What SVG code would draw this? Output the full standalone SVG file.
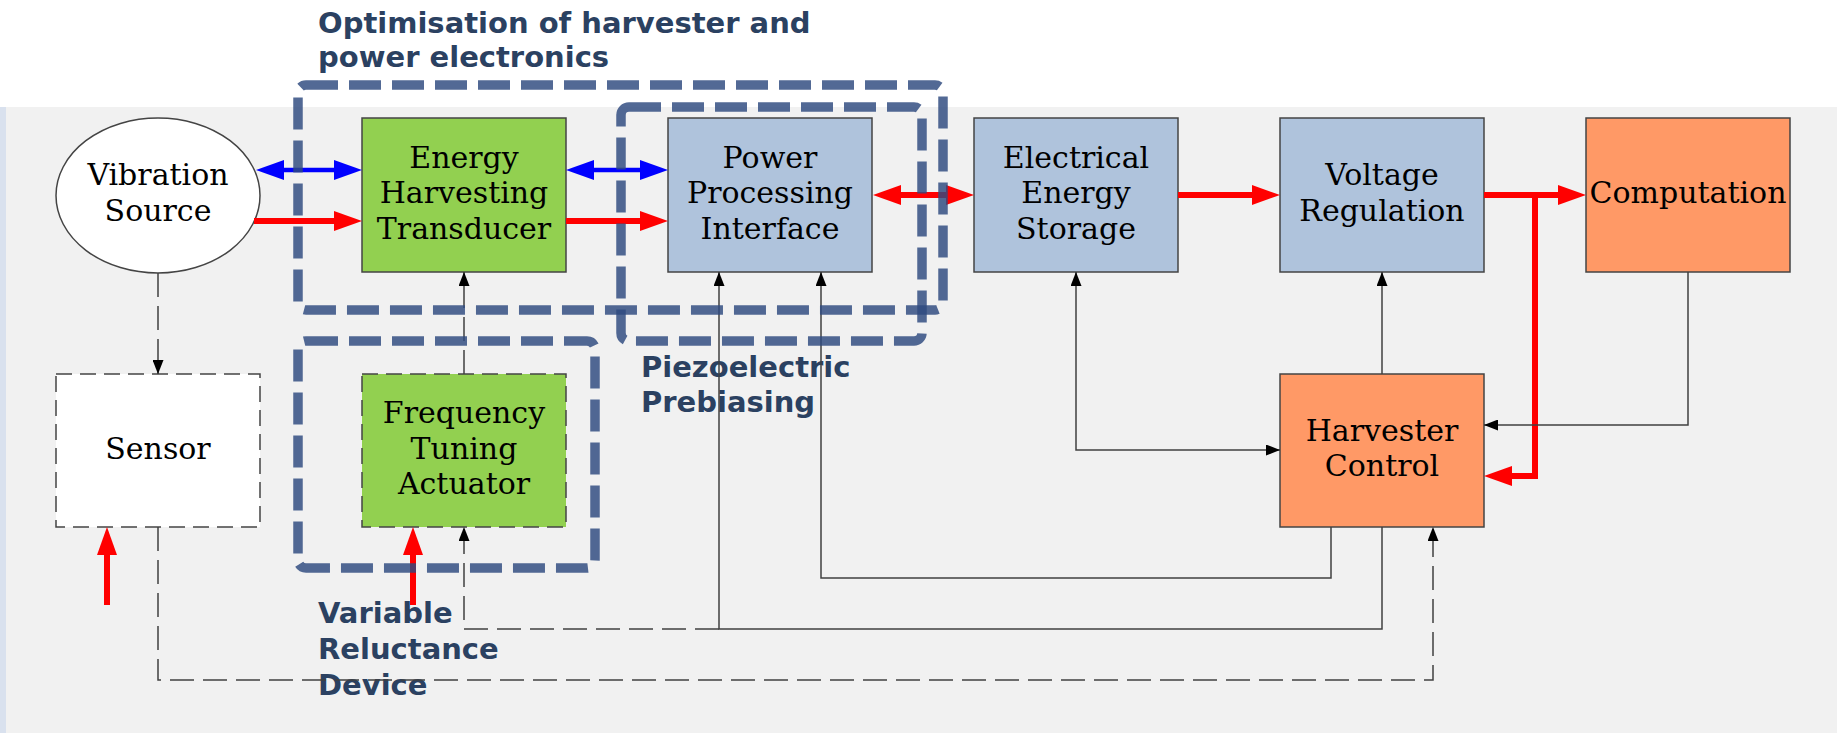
<svg xmlns="http://www.w3.org/2000/svg" width="1837" height="733" viewBox="0 0 1837 733">
<style>
.box{stroke:#444;stroke-width:1.5}
.dbox{stroke:#444;stroke-width:1.5;stroke-dasharray:16 8}
.t{font-family:"DejaVu Serif","Liberation Serif",serif;font-size:30px;fill:#000;text-anchor:middle}
.lbl{font-family:"DejaVu Sans","Liberation Sans",sans-serif;font-size:29px;font-weight:bold;fill:#2b4161}
.thin{fill:none;stroke:#404040;stroke-width:1.5}
.dash{fill:none;stroke:#404040;stroke-width:1.5;stroke-dasharray:24 9}
.red{fill:none;stroke:#ff0000;stroke-width:6}
.blue{fill:none;stroke:#0000ff;stroke-width:4.5}
.grp{fill:none;stroke:#2f4a80;stroke-opacity:0.83;stroke-width:9.5;stroke-dasharray:32 11}
</style>
<defs>
<marker id="aRed" viewBox="0 0 28 20" refX="18" refY="10" markerWidth="28" markerHeight="20" markerUnits="userSpaceOnUse" orient="auto-start-reverse"><path d="M0,0 L28,10 L0,20 z" fill="#ff0000" stroke="none"/></marker>
<marker id="aBlue" viewBox="0 0 28 20" refX="18" refY="10" markerWidth="28" markerHeight="20" markerUnits="userSpaceOnUse" orient="auto-start-reverse"><path d="M0,0 L28,10 L0,20 z" fill="#0000ff" stroke="none"/></marker>
<marker id="aBlk" viewBox="0 0 14 11" refX="14" refY="5.5" markerWidth="14" markerHeight="11" markerUnits="userSpaceOnUse" orient="auto-start-reverse"><path d="M0,0 L14,5.5 L0,11 z" fill="#000" stroke="none"/></marker>
</defs>
<rect x="0" y="0" width="1837" height="733" fill="#ffffff"/>
<rect x="6" y="107" width="1831" height="626" fill="#f1f1f1"/>
<rect x="0" y="107" width="6" height="626" fill="#d9e1ee"/>

<g id="labels">
<text class="lbl" x="318" y="33">Optimisation of harvester and</text>
<text class="lbl" x="318" y="67">power electronics</text>
<text class="lbl" x="641" y="377">Piezoelectric</text>
<text class="lbl" x="641" y="412">Prebiasing</text>
<text class="lbl" x="318" y="623">Variable</text>
<text class="lbl" x="318" y="659">Reluctance</text>
<text class="lbl" x="318" y="695">Device</text>
</g>

<g id="vibration-source">
<ellipse cx="158" cy="195.5" rx="102" ry="77.5" fill="#ffffff" class="box"/>
<text class="t" x="158" y="185">Vibration</text>
<text class="t" x="158" y="221">Source</text>
</g>
<g id="energy-harvesting-transducer">
<rect x="362" y="118" width="204" height="154" fill="#92d050" class="box"/>
<text class="t" x="464" y="167.5">Energy</text>
<text class="t" x="464" y="203">Harvesting</text>
<text class="t" x="464" y="238.5">Transducer</text>
</g>
<g id="power-processing-interface">
<rect x="668" y="118" width="204" height="154" fill="#afc3dc" class="box"/>
<text class="t" x="770" y="167.5">Power</text>
<text class="t" x="770" y="203">Processing</text>
<text class="t" x="770" y="238.5">Interface</text>
</g>
<g id="electrical-energy-storage">
<rect x="974" y="118" width="204" height="154" fill="#afc3dc" class="box"/>
<text class="t" x="1076" y="167.5">Electrical</text>
<text class="t" x="1076" y="203">Energy</text>
<text class="t" x="1076" y="238.5">Storage</text>
</g>
<g id="voltage-regulation">
<rect x="1280" y="118" width="204" height="154" fill="#afc3dc" class="box"/>
<text class="t" x="1382" y="185">Voltage</text>
<text class="t" x="1382" y="221">Regulation</text>
</g>
<g id="computation">
<rect x="1586" y="118" width="204" height="154" fill="#ff9966" class="box"/>
<text class="t" x="1688" y="203">Computation</text>
</g>
<g id="sensor">
<rect x="56" y="374" width="204" height="153" fill="#ffffff" class="dbox"/>
<text class="t" x="158" y="458.5">Sensor</text>
</g>
<g id="frequency-tuning-actuator">
<rect x="362" y="374" width="204" height="153" fill="#92d050" class="dbox"/>
<text class="t" x="464" y="423">Frequency</text>
<text class="t" x="464" y="458.5">Tuning</text>
<text class="t" x="464" y="494">Actuator</text>
</g>
<g id="harvester-control">
<rect x="1280" y="374" width="204" height="153" fill="#ff9966" class="box"/>
<text class="t" x="1382" y="441">Harvester</text>
<text class="t" x="1382" y="476">Control</text>
</g>

<g id="connectors">
<line class="blue" x1="266" y1="170" x2="352" y2="170" marker-start="url(#aBlue)" marker-end="url(#aBlue)"/>
<line class="blue" x1="576" y1="170" x2="658" y2="170" marker-start="url(#aBlue)" marker-end="url(#aBlue)"/>
<line class="red" x1="254" y1="221" x2="352" y2="221" marker-end="url(#aRed)"/>
<line class="red" x1="566" y1="221" x2="658" y2="221" marker-end="url(#aRed)"/>
<line class="red" x1="883" y1="195" x2="964" y2="195" marker-start="url(#aRed)" marker-end="url(#aRed)"/>
<line class="red" x1="1178" y1="195" x2="1270" y2="195" marker-end="url(#aRed)"/>
<line class="red" x1="1484" y1="195" x2="1576" y2="195" marker-end="url(#aRed)"/>
<path class="red" d="M1535,195 V476 H1494" marker-end="url(#aRed)"/>
<path class="red" d="M107,605 V537" marker-end="url(#aRed)"/>
<path class="red" d="M413,605 V537" marker-end="url(#aRed)"/>

<path class="dash" d="M158,273 V374" marker-end="url(#aBlk)"/>
<path class="dash" d="M464,374 V272" marker-end="url(#aBlk)"/>
<path class="thin" d="M1331,527 V578 H821 V272" marker-end="url(#aBlk)"/>
<path class="thin" d="M1382,527 V629 H719 V272" marker-end="url(#aBlk)"/>
<path class="dash" d="M719,629 H464 V527" marker-end="url(#aBlk)"/>
<path class="thin" d="M1076,272 V450 H1280" marker-start="url(#aBlk)" marker-end="url(#aBlk)"/>
<path class="thin" d="M1382,374 V272" marker-end="url(#aBlk)"/>
<path class="thin" d="M1688,272 V425 H1484" marker-end="url(#aBlk)"/>
<path class="dash" d="M158,527 V680 H1433 V527" marker-end="url(#aBlk)"/>
</g>

<g id="group-boxes">
<rect class="grp" x="298" y="85" width="645" height="225" rx="8"/>
<rect class="grp" x="621" y="107" width="301" height="234" rx="8"/>
<rect class="grp" x="298" y="341" width="297" height="227" rx="8"/>
</g>
</svg>
